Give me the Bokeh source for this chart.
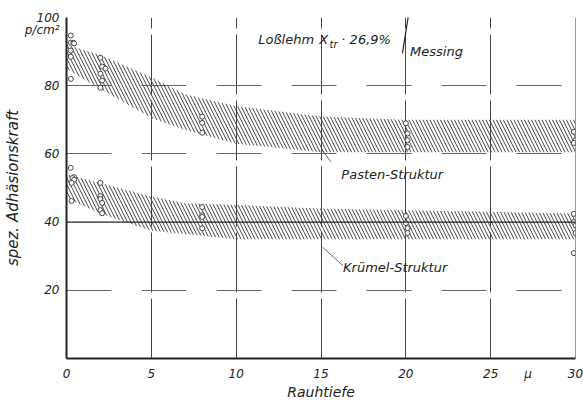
from bokeh.plotting import figure
from bokeh.models import Range1d, Label, FixedTicker, Span
from bokeh.embed import file_html
from bokeh.resources import INLINE

# ---------------- data ----------------
band_x = [0, 2, 5, 7, 10, 15, 20, 25, 30]
pasten_upper = [92, 89, 82.5, 77.5, 74, 71, 70, 70, 70]
pasten_lower = [85, 79, 70.5, 67, 63, 60.5, 60.5, 60.5, 60.5]
kruemel_upper = [54, 51.5, 47.5, 45.5, 45, 44, 43.5, 43, 42.5]
kruemel_lower = [47, 42.5, 37.5, 36.5, 35, 35, 35, 35, 35]

pasten_px = [0.25, 0.25, 0.4, 0.45, 0.25, 0.25, 0.25,
             2.0, 2.1, 2.3, 2.0, 2.1, 2.0,
             8.0, 8.0, 8.0,
             20.0, 20.1, 20.1, 20.1,
             29.9, 30.0, 29.9]
pasten_py = [94.7, 92.6, 92.6, 92.4, 90.3, 88.5, 82.0,
             88.2, 85.6, 85.0, 83.5, 81.5, 79.4,
             70.9, 69.1, 66.2,
             69.0, 66.0, 64.0, 62.0,
             66.5, 64.0, 63.2]
kruemel_px = [0.25, 0.45, 0.35, 0.45, 0.3, 0.3,
              2.0, 2.0, 2.0, 2.1, 2.0, 2.1,
              8.0, 8.0, 8.0, 8.0,
              20.0, 20.0, 20.1, 20.1,
              29.9, 29.9, 30.0, 30.0, 29.9]
kruemel_py = [55.9, 53.2, 52.9, 52.4, 51.5, 46.2,
              51.5, 47.6, 46.8, 45.6, 43.5, 42.6,
              44.4, 42.0, 41.5, 38.2,
              41.8, 39.7, 38.2, 36.8,
              42.4, 40.0, 39.0, 36.8, 30.9]

x_ticks = [0, 5, 10, 15, 20, 25, 30]
y_ticks = [20, 40, 60, 80, 100]
x_unit_pos, x_unit = 27.2, "μ"
y_unit_pos, y_unit = 96.4, "p/cm²"

FONT = "DejaVu Sans"

p = figure(width=583, height=402, output_backend="svg", toolbar_location=None,
           x_range=Range1d(0, 30), y_range=Range1d(0, 100),
           min_border_left=65, min_border_right=8, min_border_top=17,
           min_border_bottom=44, background_fill_color="white",
           border_fill_color="white")
p.outline_line_color = None

# axes
for ax in (p.xaxis, p.yaxis):
    ax.axis_line_width = 2
    ax.axis_line_color = "#222222"
    ax.major_tick_line_color = None
    ax.minor_tick_line_color = None
    ax.major_label_text_font = FONT
    ax.major_label_text_font_style = "italic"
    ax.major_label_text_font_size = "12px"
    ax.major_label_text_color = "#222222"
    ax.axis_label_text_font = FONT
    ax.axis_label_text_font_style = "italic"
    ax.axis_label_text_color = "#222222"
p.xaxis.ticker = FixedTicker(ticks=x_ticks + [x_unit_pos])
p.xaxis.major_label_overrides = {x_unit_pos: x_unit}
p.yaxis.ticker = FixedTicker(ticks=y_ticks + [y_unit_pos])
p.yaxis.major_label_overrides = {y_unit_pos: y_unit}
p.xaxis.major_label_standoff = 2
p.yaxis.major_label_standoff = 1
p.xaxis.axis_label = "Rauhtiefe"
p.yaxis.axis_label = "spez. Adhäsionskraft"
p.xaxis.axis_label_text_font_size = "14px"
p.yaxis.axis_label_text_font_size = "15px"
p.xaxis.axis_label_standoff = 0
p.yaxis.axis_label_standoff = 0

# grid
p.xgrid.ticker = FixedTicker(ticks=[5, 10, 15, 20, 25])
p.ygrid.ticker = FixedTicker(ticks=[20, 60, 80, 100])
p.xgrid.grid_line_color = "#444444"
p.xgrid.grid_line_width = 1
p.xgrid.grid_line_dash = "60 6"
p.ygrid.grid_line_color = "#666666"
p.ygrid.grid_line_width = 1
p.ygrid.grid_line_dash = "45 30"
p.add_layout(Span(location=40, dimension="width", line_color="#222222", line_width=1.2))
p.add_layout(Span(location=30, dimension="height", line_color="#333333", line_width=1))

# hatched bands
p.varea(x=band_x, y1=pasten_lower, y2=pasten_upper, fill_alpha=0,
        hatch_pattern="\\", hatch_color="#444444", hatch_scale=7, hatch_weight=1)
p.varea(x=band_x, y1=kruemel_lower, y2=kruemel_upper, fill_alpha=0,
        hatch_pattern="\\", hatch_color="#444444", hatch_scale=7, hatch_weight=1)

# data points
p.scatter(pasten_px, pasten_py, marker="circle", size=5, fill_color="white",
          line_color="#333333", line_width=0.9)
p.scatter(kruemel_px, kruemel_py, marker="circle", size=5, fill_color="white",
          line_color="#333333", line_width=0.9)

# leader lines
p.segment(x0=[15.05, 15.1], y0=[61.2, 32.6], x1=[15.6, 16.3], y1=[57.6, 27.2],
          line_color="#444444", line_width=0.8)
p.segment(x0=[20.15], y0=[100.5], x1=[19.8], y1=[89.5], line_color="#222222",
          line_width=1.2)

def lab(x, y, t, size="13px", **kw):
    p.add_layout(Label(x=x, y=y, text=t, text_font=FONT, text_font_style="italic",
                       text_font_size=size, text_color="#222222",
                       text_baseline="middle", **kw))

lab(11.3, 93.6, "Loßlehm")
lab(14.9, 93.6, "X")
lab(15.5, 92.2, "tr", size="10px")
lab(16.2, 93.6, "· 26,9%")
lab(20.25, 90.0, "Messing")
lab(16.2, 54.1, "Pasten-Struktur")
lab(16.3, 26.8, "Krümel-Struktur")

open("out.html", "w").write(file_html(p, INLINE))
